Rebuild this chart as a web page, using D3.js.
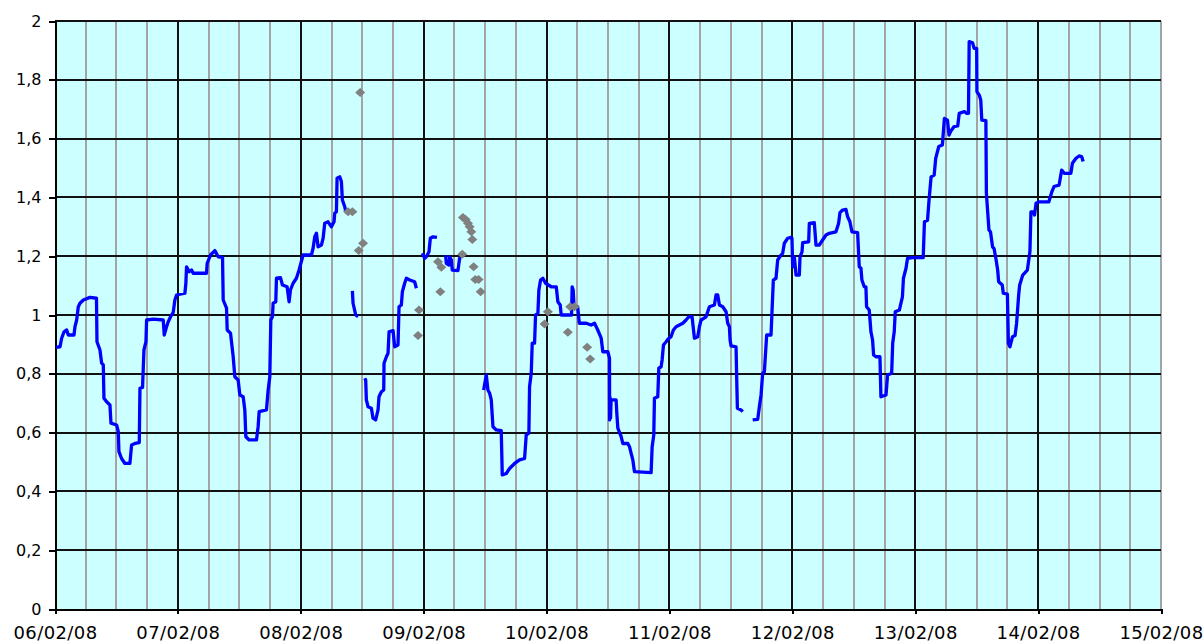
<!DOCTYPE html>
<html>
<head>
<meta charset="utf-8">
<script src="https://cdn.jsdelivr.net/npm/d3@7.9.0/dist/d3.min.js"></script>
<style>
  html, body { margin: 0; padding: 0; background: #fff; }
  svg { display: block; }
  .axis text { font-family: "DejaVu Sans", Verdana, sans-serif; fill: #000; }
</style>
</head>
<body>
<svg id="chart" width="1204" height="642"></svg>
<script>
// Time axis: hours after 06/02/08 00:00
const startDay = new Date(2008, 1, 6);
const endDay = new Date(2008, 1, 15);
const yTicks = [0, 0.2, 0.4, 0.6, 0.8, 1, 1.2, 1.4, 1.6, 1.8, 2];

// Blue line, split where the record has gaps: [hours, value]
const seg1 = [[0.2,0.89],[0.98,0.892],[1.3,0.921],[1.76,0.943],[2.28,0.949],[2.6,0.932],[3.71,0.932],[3.9,0.96],[4.23,0.983],[4.55,1.028],[4.88,1.04],[5.53,1.051],[6.83,1.06],[8.1,1.057],[8.2,0.909],[8.78,0.881],[9.11,0.836],[9.43,0.83],[9.56,0.717],[10.08,0.705],[10.73,0.694],[10.93,0.632],[12.03,0.626],[12.36,0.603],[12.49,0.535],[13.0,0.512],[13.66,0.495],[14.63,0.495],[14.96,0.558],[15.61,0.563],[16.46,0.566],[16.59,0.751],[17.1,0.754],[17.37,0.881],[17.76,0.909],[17.89,0.983],[19.19,0.986],[21.14,0.983],[21.33,0.932],[21.79,0.96],[22.11,0.977],[22.57,0.994],[23.09,1.009],[23.41,1.051],[23.74,1.068],[25.37,1.074],[25.56,1.108],[25.69,1.164],[26.21,1.147],[26.67,1.153],[26.99,1.142],[29.59,1.142],[29.72,1.176],[30.37,1.204],[31.22,1.219],[31.87,1.198],[32.72,1.196],[32.85,1.051],[33.5,1.023],[33.63,0.949],[34.28,0.938],[34.47,0.909],[34.8,0.858],[35.12,0.79],[35.77,0.779],[36.1,0.728],[36.75,0.722],[37.07,0.677],[37.27,0.586],[37.92,0.575],[39.35,0.575],[39.67,0.62],[39.87,0.671],[41.3,0.677],[41.63,0.745],[41.95,0.79],[42.15,0.983],[42.47,0.994],[42.6,1.04],[43.12,1.045],[43.25,1.125],[44.03,1.127],[44.42,1.102],[45.33,1.096],[45.72,1.045],[45.98,1.085],[46.5,1.108],[47.15,1.125],[47.67,1.153],[47.93,1.17],[48.46,1.204],[50.08,1.204],[50.41,1.227],[50.73,1.266],[51.06,1.278],[51.38,1.232],[52.03,1.238],[52.36,1.261],[52.68,1.312],[53.33,1.317],[53.98,1.3],[54.5,1.317],[54.63,1.346],[54.96,1.351],[55.09,1.465],[55.61,1.47],[55.93,1.454],[56.13,1.391],[56.59,1.368],[56.78,1.351]];
const seg2 = [[58.08,1.082],[58.21,1.04],[58.73,1.0],[59.19,0.994]];
const seg3 = [[60.49,0.785],[60.68,0.779],[60.81,0.711],[61.14,0.688],[61.79,0.683],[62.11,0.649],[62.63,0.643],[63.09,0.677],[63.28,0.722],[63.74,0.739],[64.2,0.745],[64.26,0.836],[64.72,0.858],[65.04,0.87],[65.24,0.943],[66.02,0.947],[66.34,0.892],[66.99,0.898],[67.19,1.028],[67.64,1.034],[67.84,1.079],[68.29,1.108],[68.62,1.125],[69.27,1.119],[70.24,1.113],[70.57,1.091]];
const seg4 = [[71.74,1.21],[72.2,1.193],[72.52,1.198],[73.04,1.215],[73.3,1.261],[73.82,1.266],[74.6,1.264]];
const seg5 = [[76.29,1.204],[76.42,1.176],[76.94,1.17],[77.07,1.198],[77.4,1.187],[77.59,1.153],[78.7,1.151],[79.02,1.193],[79.35,1.193]];
const seg6 = [[83.71,0.745],[84.23,0.796],[84.55,0.745],[84.88,0.734],[85.2,0.711],[85.53,0.62],[86.18,0.609],[87.15,0.607],[87.35,0.456],[88.13,0.461],[88.78,0.478],[89.76,0.495],[90.73,0.507],[91.71,0.512],[92.03,0.592],[92.55,0.598],[92.68,0.756],[93.01,0.802],[93.2,0.904],[93.66,0.904],[93.85,1.0],[94.31,1.006],[94.5,1.085],[94.83,1.119],[95.28,1.125],[95.8,1.108],[96.91,1.096],[97.89,1.096],[98.21,1.045],[98.67,1.034],[98.86,1.0],[99.84,1.0],[100.88,1.0],[101.0,1.096],[101.2,1.085],[101.4,1.022],[102.07,1.028],[102.4,0.972],[103.74,0.972],[104.7,0.966],[105.37,0.972],[106.0,0.949],[106.67,0.921],[106.99,0.875],[107.97,0.875],[108.29,0.853],[108.32,0.643],[108.4,0.72],[108.5,0.65],[108.6,0.711],[109.59,0.711],[109.72,0.666],[109.92,0.615],[110.57,0.586],[110.89,0.563],[111.87,0.563],[112.2,0.552],[112.52,0.529],[112.85,0.507],[113.17,0.467],[116.42,0.464],[116.62,0.552],[116.94,0.592],[117.07,0.717],[117.72,0.722],[117.92,0.819],[118.37,0.824],[118.57,0.847],[118.83,0.898],[119.35,0.909],[119.67,0.917],[120.31,0.926],[120.77,0.949],[121.3,0.96],[122.6,0.972],[123.25,0.983],[123.77,0.994],[124.42,0.994],[124.88,0.921],[125.53,0.926],[125.85,0.96],[126.18,0.983],[127.15,0.994],[127.8,1.028],[128.78,1.034],[129.1,1.068],[129.43,1.068],[129.76,1.034],[130.41,1.028],[131.06,1.011],[131.38,0.972],[131.71,0.96],[131.84,0.915],[132.03,0.895],[133.01,0.892],[133.14,0.779],[133.27,0.683],[133.98,0.677],[134.31,0.671]];
const seg7 = [[136.26,0.643],[137.24,0.645],[137.56,0.688],[137.89,0.728],[138.21,0.802],[138.54,0.807],[138.99,0.932],[139.84,0.932],[140.03,1.011],[140.29,1.119],[140.81,1.125],[141.14,1.187],[141.79,1.204],[142.11,1.21],[142.44,1.244],[143.09,1.261],[143.74,1.264],[143.93,1.261],[144.07,1.164],[144.39,1.198],[144.72,1.136],[145.37,1.136],[145.5,1.198],[145.89,1.215],[146.02,1.246],[147.19,1.249],[147.32,1.312],[148.29,1.314],[148.62,1.238],[149.27,1.238],[149.92,1.255],[150.57,1.272],[151.22,1.278],[152.52,1.283],[153.04,1.312],[153.3,1.348],[153.82,1.357],[154.47,1.359],[154.8,1.334],[155.25,1.317],[155.64,1.283],[156.75,1.28],[157.07,1.164],[157.4,1.159],[157.59,1.119],[158.05,1.096],[158.37,1.096],[158.5,1.028],[159.02,1.017],[159.35,0.943],[159.67,0.915],[159.87,0.864],[160.33,0.858],[161.11,0.858],[161.3,0.722],[162.3,0.728],[162.6,0.796],[163.4,0.802],[163.6,0.904],[163.9,0.943],[164.1,1.011],[164.9,1.017],[165.5,1.062],[165.7,1.125],[166.2,1.159],[166.5,1.193],[167.48,1.195],[169.56,1.195],[169.8,1.317],[170.4,1.322],[170.7,1.391],[171.1,1.47],[171.7,1.476],[172.0,1.533],[172.6,1.573],[173.3,1.578],[173.7,1.669],[174.3,1.663],[174.6,1.612],[174.9,1.624],[175.6,1.641],[176.3,1.643],[176.6,1.686],[177.6,1.692],[178.0,1.686],[178.4,1.686],[178.54,1.93],[179.2,1.926],[179.5,1.907],[180.0,1.907],[180.05,1.76],[180.5,1.748],[180.8,1.731],[181.0,1.663],[181.8,1.661],[181.9,1.414],[182.4,1.289],[182.7,1.283],[183.1,1.232],[183.4,1.226],[183.8,1.187],[184.1,1.153],[184.3,1.113],[185.0,1.102],[185.2,1.074],[186.0,1.071],[186.2,0.904],[186.5,0.892],[187.0,0.926],[187.5,0.93],[187.8,0.972],[188.2,1.068],[188.4,1.102],[189.0,1.136],[189.9,1.153],[190.4,1.215],[190.6,1.351],[191.1,1.351],[191.3,1.34],[191.6,1.38],[192.1,1.385],[194.1,1.385],[194.7,1.42],[195.1,1.437],[196.1,1.442],[196.6,1.493],[197.1,1.482],[198.4,1.482],[198.7,1.516],[199.4,1.533],[200.0,1.541],[200.5,1.539],[200.8,1.522]];
const lineSegments = [seg1, seg2, seg3, seg4, seg5, seg6, seg7];

// Grey diamond readings: [hours, value]
const greyPoints = [[57.24,1.351],[58.08,1.351],[59.6,1.757],[59.32,1.219],[60.16,1.244],[71.09,1.017],[70.9,0.93],[74.8,1.181],[75.45,1.162],[75.25,1.079],[79.54,1.207],[79.67,1.332],[80.2,1.325],[80.65,1.312],[80.98,1.3],[81.3,1.283],[81.5,1.257],[81.76,1.164],[82.08,1.121],[82.73,1.121],[83.12,1.079],[95.61,0.969],[96.26,1.011],[100.16,0.941],[100.62,1.028],[101.46,1.028],[103.93,0.89],[104.52,0.85]];

const svg = d3.select('#chart');
const plotLeft = 55, plotRight = 1161, plotTop = 21, plotBottom = 609;

const toDate = (h) => new Date(startDay.getTime() + h * 3600e3);

const x = d3.scaleTime().domain([startDay, endDay]).range([plotLeft, plotRight]);
const y = d3.scaleLinear().domain([0, 2]).range([plotBottom, plotTop]);
const snapX = (d) => Math.round(x(d));
const snapY = (d) => Math.round(y(d));

// Plot area
svg.append('rect')
  .attr('x', plotLeft).attr('y', plotTop)
  .attr('width', plotRight - plotLeft).attr('height', plotBottom - plotTop)
  .attr('fill', '#ccffff');

const grid = svg.append('g').attr('shape-rendering', 'crispEdges');

// quarter-day lines (grey)
grid.selectAll('line.minor')
  .data(d3.timeHour.every(6).range(startDay, endDay).filter((d) => d.getHours() !== 0))
  .join('line')
  .attr('class', 'minor')
  .attr('x1', snapX).attr('x2', snapX)
  .attr('y1', plotTop).attr('y2', plotBottom)
  .attr('stroke', '#a4a4a4')
  .attr('stroke-width', 2);

// right border
grid.append('line')
  .attr('x1', plotRight).attr('x2', plotRight)
  .attr('y1', plotTop).attr('y2', plotBottom)
  .attr('stroke', '#a4a4a4')
  .attr('stroke-width', 2);

// day lines (black)
grid.selectAll('line.major')
  .data(d3.timeDay.range(d3.timeDay.offset(startDay, 1), endDay))
  .join('line')
  .attr('class', 'major')
  .attr('x1', snapX).attr('x2', snapX)
  .attr('y1', plotTop).attr('y2', plotBottom)
  .attr('stroke', '#111')
  .attr('stroke-width', 2);

// value lines (black)
grid.selectAll('line.h')
  .data(yTicks.filter((d) => d > 0))
  .join('line')
  .attr('class', 'h')
  .attr('x1', plotLeft).attr('x2', plotRight)
  .attr('y1', snapY).attr('y2', snapY)
  .attr('stroke', '#111')
  .attr('stroke-width', 2);

// Axes
const yAxis = svg.append('g')
  .attr('class', 'axis')
  .attr('transform', `translate(${plotLeft},0)`)
  .call(d3.axisLeft(y).tickValues(yTicks).tickSize(6).tickPadding(7.5)
    .tickFormat((d) => String(d).replace('.', ',')));
yAxis.selectAll('text').style('font-size', '16px');

const xAxis = svg.append('g')
  .attr('class', 'axis')
  .attr('transform', `translate(0,${plotBottom})`)
  .call(d3.axisBottom(x).ticks(d3.timeDay.every(1)).tickSize(5).tickPadding(12.5)
    .tickFormat(d3.timeFormat('%d/%m/%y')));
xAxis.selectAll('text').style('font-size', '18px').style('letter-spacing', '0.4px');

svg.selectAll('.axis path, .axis line')
  .attr('stroke', '#000')
  .attr('stroke-width', 2)
  .attr('shape-rendering', 'crispEdges');

// Blue level line
const line = d3.line()
  .x((d) => x(toDate(d[0])))
  .y((d) => y(d[1]));

svg.append('g')
  .selectAll('path')
  .data(lineSegments)
  .join('path')
  .attr('d', line)
  .attr('fill', 'none')
  .attr('stroke', '#0000ff')
  .attr('stroke-width', 3.3)
  .attr('stroke-linejoin', 'round');

// Grey diamonds
svg.append('g')
  .selectAll('path')
  .data(greyPoints)
  .join('path')
  .attr('transform', (d) => `translate(${x(toDate(d[0]))},${y(d[1])})`)
  .attr('d', 'M-5,0L0,-4.5L5,0L0,4.5Z')
  .attr('fill', '#808080');
</script>
</body>
</html>
